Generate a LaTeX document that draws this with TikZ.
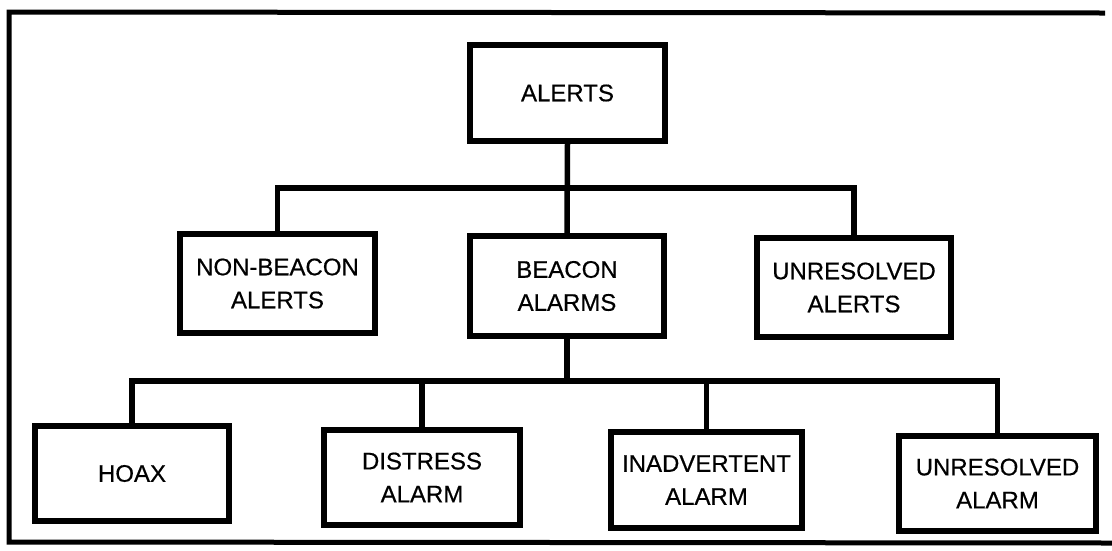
\documentclass[tikz,border=0pt]{standalone}
\usepackage{fontspec}
\setmainfont{Liberation Sans}[FakeBold=0.5]
\begin{document}
\begin{tikzpicture}[x=1pt,y=-1pt,
  box/.style={draw=black,line width=5.5pt,align=center,inner sep=0pt,
    font=\fontsize{24}{33}\selectfont,text=black},
  link/.style={draw=black,line width=5.5pt},
  frame/.style={draw=black,line width=5pt}]
\useasboundingbox (0,0) rectangle (1112,550);
% frame (left, top, bottom edges)
\coordinate (f1) at (1105,13);
\coordinate (f2) at (9,12);
\coordinate (f3) at (9,542);
\coordinate (f4) at (1112,543);
\draw[frame] (f1) -- (f2) -- (f3) -- (f4);
% boxes
\node[box,minimum width=195pt,minimum height=96pt] (alerts) at (567.5,93) {ALERTS};
\node[box,minimum width=195pt,minimum height=99pt] (nonbeacon) at (277.5,283.5) {NON-BEACON\\ALERTS};
\node[box,minimum width=194pt,minimum height=100pt] (beacon) at (567,286) {BEACON\\ALARMS};
\node[box,minimum width=194pt,minimum height=99pt] (unresalerts) at (854,287.5) {UNRESOLVED\\ALERTS};
\node[box,minimum width=194pt,minimum height=95pt] (hoax) at (132,473.5) {HOAX};
\node[box,minimum width=196pt,minimum height=95pt] (distress) at (422,477.5) {DISTRESS\\ALARM};
\node[box,minimum width=191pt,minimum height=96pt] (inadv) at (706.5,480) {INADVERTENT\\ALARM};
\node[box,minimum width=197pt,minimum height=95pt] (unresalarm) at (997.5,483.5) {UNRESOLVED\\ALARM};
% connectors
\coordinate (tb) at (567,188);
\coordinate (bb) at (567,381);
\draw[link] (alerts.south) -- (beacon.north);
\draw[link] (nonbeacon.north) |- (tb) -| (unresalerts.north);
\draw[link] (beacon.south) -- (bb);
\draw[link] (hoax.north) |- (bb) -| (unresalarm.north);
\draw[link] (distress.north) -- (distress.north |- bb);
\draw[link] (inadv.north) -- (inadv.north |- bb);
\end{tikzpicture}
\end{document}
